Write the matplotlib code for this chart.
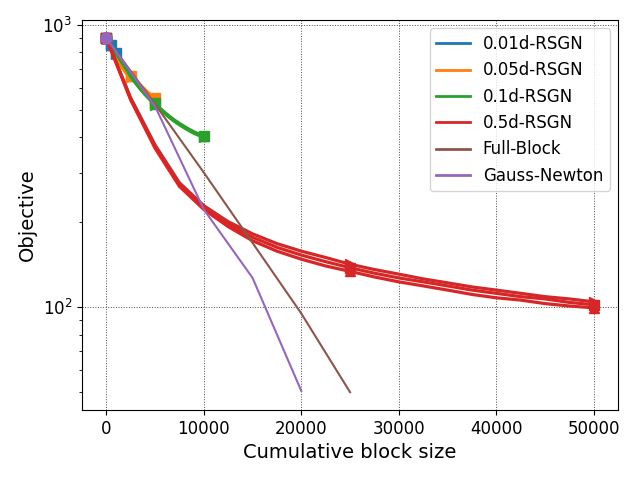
import matplotlib
matplotlib.use("Agg")
import matplotlib.pyplot as plt
from matplotlib.lines import Line2D
import numpy as np

# cumulative block size per iteration (20 iterations each)
x_001 = np.arange(0, 1001, 50)
x_005 = np.arange(0, 5001, 250)
x_01 = np.arange(0, 10001, 500)
x_05 = np.arange(0, 50001, 2500)
x_full = [0, 5000, 10000, 15000, 20000, 25000]
x_gn = [0, 5000, 10000, 15000, 20000]

# objective values, three runs per block size
obj_001 = [
    [900, 895, 890, 885, 879, 874, 869, 864, 859, 854, 849, 843, 838, 832, 827, 821, 816, 811, 806, 800, 795],
    [900, 894, 889, 883, 878, 872, 867, 862, 856, 851, 846, 840, 835, 830, 824, 819, 814, 808, 803, 798, 792],
    [900, 896, 891, 886, 881, 876, 871, 866, 861, 856, 851, 846, 840, 835, 830, 825, 820, 814, 809, 804, 798],
]
obj_005 = [
    [900, 865, 830, 800, 770, 745, 720, 700, 680, 668, 658, 645, 632, 620, 608, 597, 586, 575, 565, 555, 546],
    [900, 862, 827, 797, 767, 742, 717, 697, 677, 665, 655, 642, 629, 617, 605, 594, 583, 572, 562, 552, 543],
    [900, 867, 833, 803, 773, 748, 723, 703, 683, 671, 661, 648, 635, 623, 611, 600, 589, 578, 568, 558, 549],
]
obj_01 = [
    [900, 845, 795, 750, 705, 660, 625, 595, 568, 545, 525, 505, 488, 472, 458, 446, 435, 425, 416, 409, 403],
    [900, 843, 792, 747, 702, 657, 622, 592, 565, 542, 522, 502, 485, 469, 455, 443, 432, 422, 413, 406, 400],
    [900, 847, 797, 752, 707, 662, 627, 597, 570, 547, 527, 507, 490, 474, 460, 448, 437, 427, 418, 411, 405],
]
obj_05 = [
    [900, 546, 370, 271, 225, 197, 177, 163, 153, 145, 138, 132, 127, 123, 119, 115, 112, 109, 107, 104, 102],
    [900, 543, 366, 268, 222, 193, 172, 158, 148, 140, 134, 128, 123, 119, 115, 111, 108, 106, 103, 101, 99.5],
    [900, 552, 376, 276, 229, 201, 182, 168, 158, 150, 142, 136, 131, 126, 122, 118, 115, 112, 109, 107, 104.5],
]
obj_full = [900, 524, 300, 169, 95, 50]
obj_gn = [900, 515, 222, 127, 50.5]

labels = ["0.01d-RSGN", "0.05d-RSGN", "0.1d-RSGN", "0.5d-RSGN", "Full-Block", "Gauss-Newton"]
colors = ["tab:blue", "tab:orange", "tab:green", "tab:red", "tab:brown", "tab:purple"]

fig, ax = plt.subplots(figsize=(6.4, 4.8), dpi=100)

series = [(x_001, obj_001, colors[0], ["^", ">", "s"]),
          (x_005, obj_005, colors[1], ["^", ">", "s"]),
          (x_01, obj_01, colors[2], ["^", ">", "s"]),
          (x_05, obj_05, colors[3], ["s", "^", ">"])]
for xs, runs, c, marks in series:
    for run, m in zip(runs, marks):
        ax.plot(xs, run, color=c, lw=2.3, marker=m, ms=7, markevery=10)

ax.plot(x_full, obj_full, color=colors[4], lw=1.5, marker="o", ms=8, markevery=10)
ax.plot(x_gn, obj_gn, color=colors[5], lw=1.5, marker="o", ms=8, markevery=10)

ax.set_yscale("log")
ax.grid(True, which="major", ls=":", color="0.3", lw=0.7)
ax.set_xlabel("Cumulative block size", fontsize=14)
ax.set_ylabel("Objective", fontsize=14)
ax.tick_params(labelsize=12)

handles = [Line2D([0], [0], color=c, lw=2) for c in colors]
ax.legend(handles, labels, loc="upper right", fontsize=12)

fig.subplots_adjust(left=0.128, right=0.966, top=0.958, bottom=0.146)
fig.savefig("out.png")
